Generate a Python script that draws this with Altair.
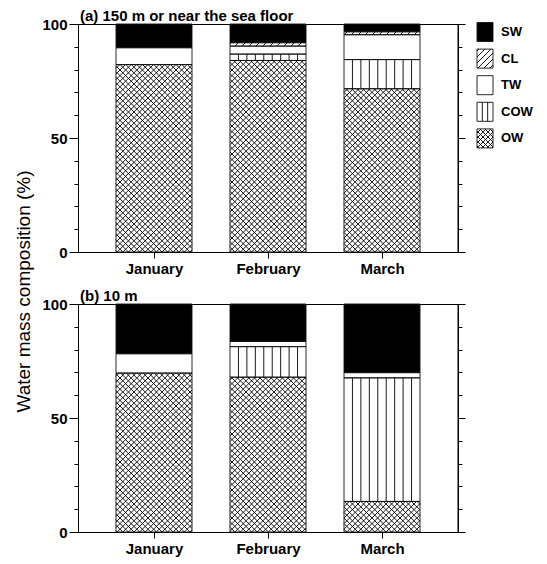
import math
import json
import altair as alt
import pandas as pd

# ---------------- data ----------------
months = ["January", "February", "March"]
masses = ["SW", "CL", "TW", "COW", "OW"]          # legend order (top to bottom)
stack_order = ["OW", "COW", "TW", "CL", "SW"]     # bar order (bottom to top)

top_title = "(a) 150 m or near the sea floor"
bottom_title = "(b) 10 m"
y_title = "Water mass composition (%)"

top_SW = [10.4, 8.2, 3.4]
top_CL = [0.0, 1.5, 1.3]
top_TW = [7.4, 3.5, 10.9]
top_COW = [0.0, 2.8, 12.8]
top_OW = [82.2, 84.0, 71.6]

bot_SW = [21.8, 16.4, 30.1]
bot_CL = [0.0, 0.0, 0.0]
bot_TW = [8.5, 2.3, 2.3]
bot_COW = [0.0, 13.4, 54.2]
bot_OW = [69.7, 67.9, 13.4]

y_ticks = list(range(0, 101, 10))
y_labels = [0, 50, 100]

top_vals = {"SW": top_SW, "CL": top_CL, "TW": top_TW, "COW": top_COW, "OW": top_OW}
bot_vals = {"SW": bot_SW, "CL": bot_CL, "TW": bot_TW, "COW": bot_COW, "OW": bot_OW}

# ---------------- layout / style ----------------
W, H = 380, 228
HALF = 1.0 / 3.0
XMIN, XMAX = 1 - 2 * HALF, len(months) + 2 * HALF
KX = W / (XMAX - XMIN)
KY = H / 100.0
FONT = "Liberation Sans"

FILL = {"SW": "black", "CL": "white", "TW": "white", "COW": "white", "OW": "white"}
HATCH = {"CL": ("fwd", 7.0), "COW": ("vert", 9), "OW": ("cross", 5.6)}
LEG_HATCH = {"CL": ("fwd", 6.0), "COW": ("vert", 3), "OW": ("cross", 5.0)}

# legend geometry in pixels from plot top-left
LEG_X0, LEG_X1, LEG_TX = 399, 415, 423
LEG_CY0, LEG_DY, LEG_HH = 8, 26.6, 9.5


def to_px(x, y):
    return (x - XMIN) * KX, y * KY


def to_data(X, Y):
    return XMIN + X / KX, Y / KY


def hatch(x0, x1, y0, y1, kind, step):
    X0, Y0 = to_px(x0, y0)
    X1, Y1 = to_px(x1, y1)
    segs = []
    if kind == "vert":
        n = int(step)
        for k in range(1, n):
            X = X0 + k * (X1 - X0) / n
            segs.append((X, Y0, X, Y1))
    if kind in ("fwd", "cross"):
        c = math.floor((Y0 - X1) / step) * step
        while c <= Y1 - X0:
            xa, xb = max(X0, Y0 - c), min(X1, Y1 - c)
            if xb - xa > 0.2:
                segs.append((xa, xa + c, xb, xb + c))
            c += step
    if kind == "cross":
        c = math.floor((X0 + Y0) / step) * step
        while c <= X1 + Y1:
            xa, xb = max(X0, c - Y1), min(X1, c - Y0)
            if xb - xa > 0.2:
                segs.append((xa, c - xa, xb, c - xb))
            c += step
    out = []
    for (ax, ay, bx, by) in segs:
        dx0, dy0 = to_data(ax, ay)
        dx1, dy1 = to_data(bx, by)
        out.append({"x": dx0, "y": dy0, "x2": dx1, "y2": dy1})
    return out


sc_x = alt.Scale(domain=[XMIN, XMAX], nice=False, zero=False)
sc_y = alt.Scale(domain=[0, 100], nice=False, zero=False)

label_expr = json.dumps(months) + "[round(datum.value) - 1]"
x_axis = alt.Axis(orient="bottom", values=[1, 2, 3], labelExpr=label_expr, tickSize=6,
                  labelPadding=3, labelFontSize=15, labelFontWeight="bold", grid=False,
                  title=None)

major_test = "datum.value % 50 === 0"


def left_axis(with_title):
    kw = dict(orient="left", values=y_ticks,
              labelExpr="indexof(" + json.dumps(y_labels) + ", datum.value) >= 0 ? datum.label : ''",
              tickSize={"condition": {"test": major_test, "value": 9}, "value": 4},
              labelFontSize=15, labelFontWeight="bold", labelPadding=2, grid=False)
    if with_title:
        kw.update(title=y_title, titleFontSize=19, titleFontWeight="normal",
                  titleX=-49, titleY=267, titleAngle=270, titleAlign="center",
                  titleBaseline="alphabetic")
    else:
        kw.update(title=None)
    return alt.Axis(**kw)


right_axis = alt.Axis(orient="right", values=y_ticks, labels=False,
                      tickSize={"condition": {"test": major_test, "value": 7}, "value": 4},
                      grid=False, title=None)


def panel(vals, title, top):
    seg_rows, hatch_rows = [], []
    for i, m in enumerate(months):
        base = 0.0
        for wm in stack_order:
            v = vals[wm][i]
            if v <= 0:
                continue
            x0, x1 = i + 1 - HALF, i + 1 + HALF
            seg_rows.append(dict(month=m, mass=wm, x=x0, x2=x1, y=base, y2=base + v,
                                 fill=FILL[wm]))
            if wm in HATCH:
                hatch_rows += hatch(x0, x1, base, base + v, *HATCH[wm])
            base += v
    seg_df = pd.DataFrame(seg_rows)

    rects = alt.Chart(seg_df).mark_rect(strokeWidth=0).encode(
        x=alt.X("x:Q", scale=sc_x, axis=x_axis),
        x2="x2:Q",
        y=alt.Y("y:Q", scale=sc_y, axis=left_axis(top)),
        y2="y2:Q",
        fill=alt.Fill("fill:N", scale=None, legend=None),
    )
    layers = [rects]

    leg_rows, leg_hatch, leg_text = [], [], []
    if top:
        for j, wm in enumerate(masses):
            cy = LEG_CY0 + LEG_DY * j
            lx0, ly0 = to_data(LEG_X0, H - (cy + LEG_HH))
            lx1, ly1 = to_data(LEG_X1, H - (cy - LEG_HH))
            leg_rows.append(dict(mass=wm, x=lx0, x2=lx1, y=ly0, y2=ly1, fill=FILL[wm]))
            if wm in LEG_HATCH:
                leg_hatch += hatch(lx0, lx1, ly0, ly1, *LEG_HATCH[wm])
            tx, ty = to_data(LEG_TX, H - cy)
            leg_text.append(dict(mass=wm, x=tx, y=ty))
        leg_df = pd.DataFrame(leg_rows)
        layers.append(alt.Chart(leg_df).mark_rect(strokeWidth=0).encode(
            x=alt.X("x:Q", scale=sc_x, axis=None), x2="x2:Q",
            y=alt.Y("y:Q", scale=sc_y, axis=None), y2="y2:Q",
            fill=alt.Fill("fill:N", scale=None, legend=None)))

    all_hatch = hatch_rows + leg_hatch
    if all_hatch:
        layers.append(alt.Chart(pd.DataFrame(all_hatch)).mark_rule(
            color="black", strokeWidth=0.9, strokeCap="butt").encode(
            x=alt.X("x:Q", scale=sc_x, axis=None), x2="x2:Q",
            y=alt.Y("y:Q", scale=sc_y, axis=None), y2="y2:Q"))

    layers.append(alt.Chart(seg_df).mark_rect(fillOpacity=0, stroke="#111", strokeWidth=0.9).encode(
        x=alt.X("x:Q", scale=sc_x, axis=None), x2="x2:Q",
        y=alt.Y("y:Q", scale=sc_y, axis=None), y2="y2:Q"))

    if top:
        layers.append(alt.Chart(leg_df).mark_rect(fillOpacity=0, stroke="#111", strokeWidth=0.9).encode(
            x=alt.X("x:Q", scale=sc_x, axis=None), x2="x2:Q",
            y=alt.Y("y:Q", scale=sc_y, axis=None), y2="y2:Q"))
        layers.append(alt.Chart(pd.DataFrame(leg_text)).mark_text(
            align="left", baseline="middle", fontSize=13, fontWeight="bold",
            font=FONT, color="black").encode(
            x=alt.X("x:Q", scale=sc_x, axis=None),
            y=alt.Y("y:Q", scale=sc_y, axis=None),
            text="mass:N"))

    frame_df = pd.DataFrame({"y": [0], "y2": [100]})
    layers.append(alt.Chart(frame_df).mark_rule(color="black", strokeWidth=1).encode(
        x=alt.value(W),
        y=alt.Y("y:Q", scale=sc_y, axis=right_axis), y2="y2:Q"))

    return alt.layer(*layers).resolve_axis(x="independent", y="independent").properties(
        width=W, height=H,
        title=alt.TitleParams(title, anchor="start", frame="group", fontSize=15,
                              fontWeight="bold", font=FONT, color="black", offset=-7, dx=2),
    )


top_chart = panel(top_vals, top_title, True)
bottom_chart = panel(bot_vals, bottom_title, False)

chart = alt.vconcat(top_chart, bottom_chart, spacing=52, bounds="flush").properties(
    padding={"left": 5, "top": 0, "right": 5, "bottom": 0}
).configure(font=FONT).configure_axis(
    domainColor="black", tickColor="black", labelColor="black", titleColor="black",
    domainWidth=1, tickWidth=1, labelFont=FONT, titleFont=FONT,
).configure_view(stroke="black", strokeWidth=1)

chart.save("out.html", embed_options={"renderer": "svg", "actions": False})
